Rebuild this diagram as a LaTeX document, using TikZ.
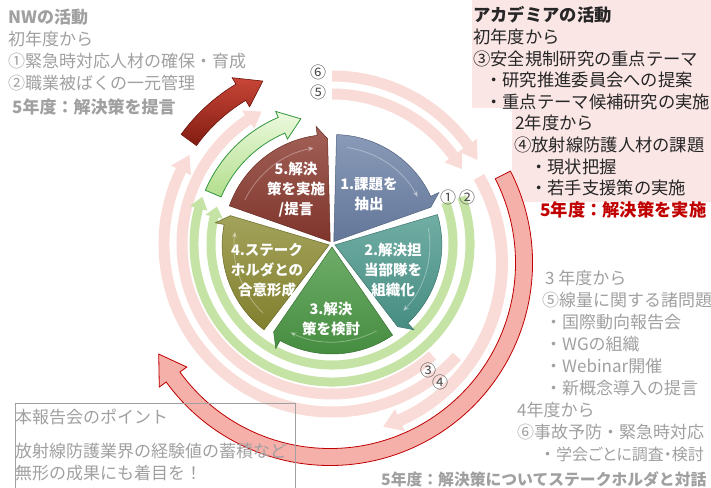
\documentclass[tikz,border=0pt]{standalone}
\usepackage{fontspec}
\setmainfont{Noto Sans CJK JP}
\usetikzlibrary{arrows.meta}
\definecolor{secA}{RGB}{108,129,166}
\definecolor{secB}{RGB}{77,153,141}
\definecolor{secC}{RGB}{73,151,67}
\definecolor{secD}{RGB}{140,139,50}
\definecolor{secE}{RGB}{138,57,46}
\definecolor{bandGreen}{RGB}{198,227,166}
\definecolor{faintPink}{RGB}{249,219,215}
\definecolor{ringPink}{RGB}{245,176,170}
\definecolor{ringEdge}{RGB}{192,0,0}
\definecolor{boxPink}{RGB}{251,230,230}
\definecolor{noteGray}{RGB}{160,160,160}
\definecolor{acRed}{RGB}{192,0,0}

% curved band with an arrow head, running clockwise
% #1 style, #2 centre, #3 radius, #4 start, #5 end, #6 half width, #7 half head width, #8 head length (deg)
\newcommand{\ringarrow}[8]{%
  \pgfmathsetmacro{\rgOut}{#3+#6}\pgfmathsetmacro{\rgIn}{#3-#6}%
  \pgfmathsetmacro{\rgHo}{#3+#7}\pgfmathsetmacro{\rgHi}{#3-#7}%
  \pgfmathsetmacro{\rgHb}{#5+#8}%
  \path[#1,shift={(#2)}] (#4:\rgOut) arc[start angle=#4,end angle=\rgHb,radius=\rgOut]
    -- (\rgHb:\rgHo) -- (#5:#3) -- (\rgHb:\rgHi) -- (\rgHb:\rgIn)
    arc[start angle=\rgHb,end angle=#4,radius=\rgIn] -- cycle;}

\begin{document}
\begin{tikzpicture}[x=1pt,y=1pt,
  txt/.style={inner sep=0pt,anchor=north west,align=left,font=\fontsize{17}{22}\selectfont},
  num/.style={inner sep=0pt,font=\fontsize{16}{16}\selectfont,text=black!70},
  seclbl/.style={inner sep=0pt,align=center,text=white,font=\bfseries\fontsize{14.5}{20}\selectfont},
  faint/.style={fill=faintPink},
  gband/.style={fill=bandGreen},
  shadow/.style={fill=black,opacity=.18,xshift=1.5pt,yshift=-2pt}
]
  \useasboundingbox (0,0) rectangle (711,487);
  \coordinate (O) at (332,243);
  \coordinate (R) at (330,224);
  % pink panels behind the academia notes
  \fill[boxPink] (472,379) rectangle (711,487);
  \fill[boxPink] (512,285) rectangle (711,379);
  % faint rings
  \ringarrow{faint}{O}{168}{90}{30}{5.5}{11}{6}
  \ringarrow{faint}{O}{150}{90}{30}{5.5}{11}{6}
  \ringarrow{faint}{R}{172}{30}{-72}{6}{12}{6}
  \ringarrow{faint}{O}{168}{-42}{-212}{5.5}{11}{6}
  \ringarrow{faint}{O}{150}{-48}{-242}{5.5}{11}{6}
  % big ring
  \ringarrow{shadow}{R}{194}{27}{-152}{8.5}{17}{8}
  \ringarrow{fill=ringPink,draw=ringEdge,line width=.8pt}{R}{194}{27}{-152}{8.5}{17}{8}
  % green rings
  \ringarrow{gband}{O}{138}{20}{-200}{4.5}{9}{5}
  \ringarrow{gband}{O}{121}{20}{-198}{4.5}{9}{5}
  % green and red arrows
  \ringarrow{shadow}{O}{129}{157}{104}{8.5}{15}{9}
  \ringarrow{top color={rgb,255:red,236;green,249;blue,222},bottom color={rgb,255:red,178;green,222;blue,140},
    draw={rgb,255:red,50;green,150;blue,60},line width=.8pt}{O}{129}{157}{104}{8.5}{15}{9}
  \ringarrow{shadow}{O}{177}{144}{113}{9.5}{17}{8}
  \ringarrow{top color={rgb,255:red,200;green,70;blue,55},bottom color={rgb,255:red,130;green,28;blue,18},
    draw={rgb,255:red,110;green,20;blue,10},line width=.6pt}{O}{177}{144}{113}{9.5}{17}{8}
  % pie
  \foreach \a/\col in {90/secA,18/secB,-54/secC,-126/secD,-198/secE}{
    \pgfmathsetmacro{\sgS}{\a-1.5}
    \pgfmathsetmacro{\sgE}{\a-65}
    \pgfmathsetmacro{\sgT}{\a-70.5}
    \pgfmathsetmacro{\sgM}{\a-36}
    \pgfmathsetmacro{\sgHs}{\a-8}
    \pgfmathsetmacro{\sgHe}{\a-62}
    \begin{scope}[shift={(O)},shift={(\sgM:3)}]
      \path[top color=\col!80!white,bottom color=\col!92!black,draw=\col!75!black,line width=.5pt]
        (0,0) -- (\sgS:107) arc[start angle=\sgS,end angle=\sgE,radius=107]
        -- (\sgE:116) -- (\sgT:103) -- cycle;
      \draw[white,opacity=.35,line width=.8pt,-{Stealth[length=6pt,width=5pt]}]
        (\sgHs:95) arc[start angle=\sgHs,end angle=\sgHe,radius=95];
    \end{scope}}
  \node[seclbl] (s1) at (369,293) {1.課題を\\抽出};
  \node[seclbl] (s2) at (393,217) {2.解決担\\当部隊を\\組織化};
  \node[seclbl] (s3) at (331,168) {3.解決\\策を検討};
  \node[seclbl] (s4) at (267,217) {4.ステーク\\ホルダとの\\合意形成};
  \node[seclbl] (s5) at (296,297) {5.解決\\策を実施\\/提言};
  % ring numbers
  \node[num] (n1) at (448,290) {①};
  \node[num] (n2) at (467,290) {②};
  \node[num] (n3) at (428,117) {③};
  \node[num] (n4) at (440,105) {④};
  \node[num] (n5) at (318,395) {⑤};
  \node[num] (n6) at (318,415) {⑥};
  % notes
  \node[txt,text=noteGray] (nw) at (8,478.5) {\textbf{NWの活動}\\
    初年度から\\
    ①緊急時対応人材の確保・育成\\
    ②職業被ばくの一元管理\\[2pt]
    \hspace*{4pt}\textbf{5年度：解決策を提言}};
  \node[txt,text=black!85,font=\fontsize{17.3}{21.6}\selectfont] (ac) at (473,480.5) {\textbf{アカデミアの活動}\\
    初年度から\\
    ③安全規制研究の重点テーマ\\
    \hspace*{12pt}・研究推進委員会への提案\\
    \hspace*{12pt}・重点テーマ候補研究の実施\\
    \hspace*{42pt}2年度から\\
    \hspace*{41pt}④放射線防護人材の課題\\
    \hspace*{57pt}・現状把握\\
    \hspace*{57pt}・若手支援策の実施\\
    \hspace*{67pt}\textcolor{acRed}{\textbf{5年度：解決策を実施}}};
  \node[txt,text=noteGray] (acl) at (517,217.5) {\hspace*{28pt}3 年度から\\
    \hspace*{25pt}⑤線量に関する諸問題\\
    \hspace*{28pt}・国際動向報告会\\
    \hspace*{28pt}・WGの組織\\
    \hspace*{28pt}・Webinar開催\\
    \hspace*{28pt}・新概念導入の提言\\
    4年度から\\
    ⑥事故予防・緊急時対応\\
    \hspace*{22pt}・{\addfontfeature{RawFeature=+palt}\fontsize{16}{22}\selectfont 学会ごとに調査・検討}};
  \node[inner sep=0pt,anchor=base west,text=noteGray,font=\bfseries\fontsize{15.8}{20}\selectfont] (goal) at (381,1.5)
    {5年度：解決策についてステークホルダと対話};
  % point box
  \draw[noteGray,line width=.6pt] (15,-2) rectangle (295,84);
  \node[txt,text=noteGray] (pt) at (15,78.5) {本報告会のポイント\\[12pt]
    放射線防護業界の経験値の蓄積など\\
    無形の成果にも着目を！};
\end{tikzpicture}
\end{document}
